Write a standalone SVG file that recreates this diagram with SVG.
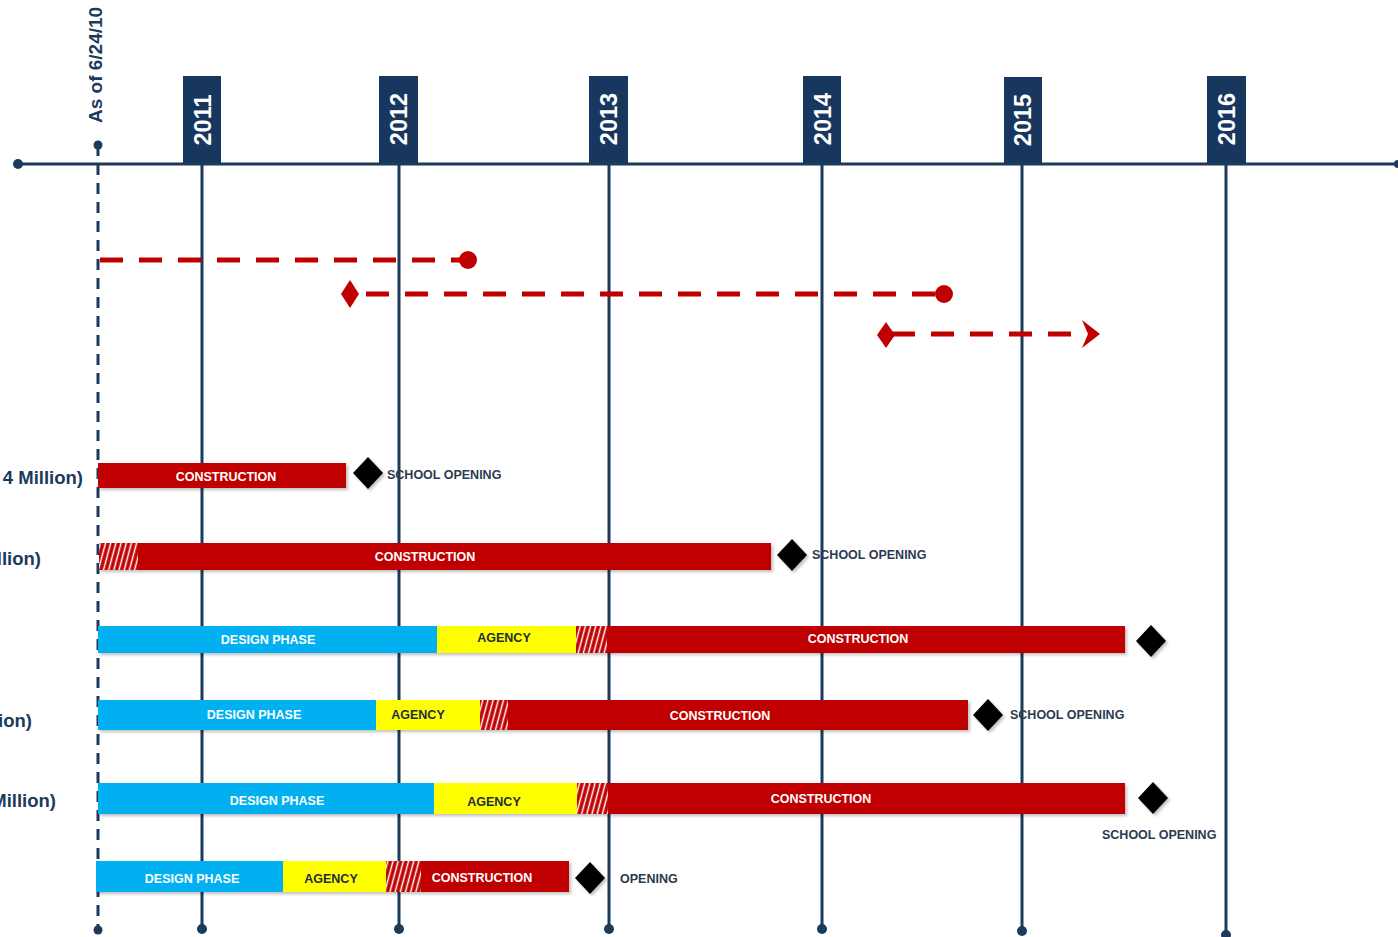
<svg xmlns="http://www.w3.org/2000/svg" width="1398" height="937" viewBox="0 0 1398 937">
<style>
.ax{stroke:#1b3a5c;stroke-width:3;fill:none}
.dot{fill:#1b3a5c}
.tag{fill:#17375e}
.yr{font-family:"Liberation Sans",Arial,sans-serif;font-weight:bold;font-size:23.5px;fill:#fff}
.red{fill:#c00000}
.cyan{fill:#00b0f0}
.yel{fill:#ffff00}
.hat{fill:url(#hatch)}
.bt{font-family:"Liberation Sans",Arial,sans-serif;font-weight:bold;font-size:12.5px;fill:#fff;text-anchor:middle}
.bty{font-family:"Liberation Sans",Arial,sans-serif;font-weight:bold;font-size:12.5px;fill:#1f2d3d;text-anchor:middle}
.ot{font-family:"Liberation Sans",Arial,sans-serif;font-weight:bold;font-size:12.5px;fill:#2b3a4f}
.lab{font-family:"Liberation Sans",Arial,sans-serif;font-weight:bold;font-size:18.5px;fill:#1b3a5c;text-anchor:end}
.rd{stroke:#c00000;stroke-width:5;fill:none;stroke-dasharray:23 16}
.dia{fill:#000}
</style>
<defs>
<pattern id="hatch" patternUnits="userSpaceOnUse" width="5" height="12" patternTransform="rotate(15)">
<rect width="5" height="12" fill="#c00000"/>
<line x1="2.5" y1="0" x2="2.5" y2="12" stroke="#fff" stroke-width="1.5"/>
</pattern>
<filter id="sh" x="-10%" y="-30%" width="120%" height="170%">
<feDropShadow dx="2" dy="2" stdDeviation="1.5" flood-color="#000" flood-opacity="0.25"/>
</filter>
</defs>
<rect width="1398" height="937" fill="#fff"/>

<g id="axis">
<line class="ax" x1="18" y1="164" x2="1398" y2="164"/>
<circle class="dot" cx="18" cy="164" r="5"/>
<circle class="dot" cx="1398" cy="164" r="4"/>
<line class="ax" x1="98" y1="145" x2="98" y2="930" stroke-dasharray="11 8"/>
<circle class="dot" cx="98" cy="145" r="4.5"/>
<circle class="dot" cx="98" cy="930" r="4.5"/>
<text transform="translate(102,123) rotate(-90)" font-family="Liberation Sans, Arial, sans-serif" font-weight="bold" font-size="19" fill="#1b3a5c">As of 6/24/10</text>
</g>

<g id="year-2011">
<line class="ax" x1="202" y1="164" x2="202" y2="929"/><circle class="dot" cx="202" cy="929" r="5"/>
<rect class="tag" x="183" y="76" width="38" height="88"/>
<text class="yr" transform="translate(210.5,120) rotate(-90)" text-anchor="middle">2011</text>
</g>
<g id="year-2012">
<line class="ax" x1="399" y1="164" x2="399" y2="929"/><circle class="dot" cx="399" cy="929" r="5"/>
<rect class="tag" x="379" y="76" width="39" height="87"/>
<text class="yr" transform="translate(407,119) rotate(-90)" text-anchor="middle">2012</text>
</g>
<g id="year-2013">
<line class="ax" x1="609" y1="164" x2="609" y2="929"/><circle class="dot" cx="609" cy="929" r="5"/>
<rect class="tag" x="589" y="76" width="39" height="87"/>
<text class="yr" transform="translate(617,119) rotate(-90)" text-anchor="middle">2013</text>
</g>
<g id="year-2014">
<line class="ax" x1="822" y1="164" x2="822" y2="929"/><circle class="dot" cx="822" cy="929" r="5"/>
<rect class="tag" x="803" y="76" width="38" height="87"/>
<text class="yr" transform="translate(830.5,119) rotate(-90)" text-anchor="middle">2014</text>
</g>
<g id="year-2015">
<line class="ax" x1="1022" y1="164" x2="1022" y2="931"/><circle class="dot" cx="1022" cy="931" r="5"/>
<rect class="tag" x="1004" y="77" width="38" height="86"/>
<text class="yr" transform="translate(1031,120) rotate(-90)" text-anchor="middle">2015</text>
</g>
<g id="year-2016">
<line class="ax" x1="1226" y1="164" x2="1226" y2="935"/><circle class="dot" cx="1226" cy="935" r="5"/>
<rect class="tag" x="1207" y="76" width="39" height="87"/>
<text class="yr" transform="translate(1235,119) rotate(-90)" text-anchor="middle">2016</text>
</g>

<g id="connectors">
<line class="rd" x1="100" y1="260" x2="460" y2="260"/>
<circle class="red" cx="468" cy="260" r="9"/>
<line class="rd" x1="358" y1="294" x2="936" y2="294" stroke-dashoffset="-8"/>
<polygon class="red" points="341,294 350,280 359,294 350,308"/>
<circle class="red" cx="944" cy="294" r="9"/>
<line class="rd" x1="892" y1="334" x2="1084" y2="334"/>
<polygon class="red" points="877,335 886,322 895,335 886,348"/>
<polygon class="red" points="1082,320 1100,334 1082,348 1088,334"/>
</g>

<g id="row1">
<text class="lab" x="83" y="484">4 Million)</text>
<rect class="red" x="98" y="463" width="248" height="25" filter="url(#sh)"/>
<text class="bt" x="226" y="481">CONSTRUCTION</text>
<polygon class="dia" points="353,473 368,457 383,473 368,489" filter="url(#sh)"/>
<text class="ot" x="387" y="479">SCHOOL OPENING</text>
</g>

<g id="row2">
<text class="lab" x="41" y="565">llion)</text>
<rect class="red" x="99" y="543" width="672" height="27" filter="url(#sh)"/>
<rect class="hat" x="99" y="543" width="39" height="27"/>
<text class="bt" x="425" y="561">CONSTRUCTION</text>
<polygon class="dia" points="777,555 792,539 807,555 792,571" filter="url(#sh)"/>
<text class="ot" x="812" y="559">SCHOOL OPENING</text>
</g>

<g id="row3">
<rect class="cyan" x="98" y="626" width="339" height="27" filter="url(#sh)"/>
<rect class="yel" x="437" y="626" width="139" height="27" filter="url(#sh)"/>
<rect class="red" x="576" y="626" width="549" height="27" filter="url(#sh)"/>
<rect class="hat" x="576" y="626" width="31" height="27"/>
<text class="bt" x="268" y="644">DESIGN PHASE</text>
<text class="bty" x="504" y="642">AGENCY</text>
<text class="bt" x="858" y="643">CONSTRUCTION</text>
<polygon class="dia" points="1136,641 1151,625 1166,641 1151,657" filter="url(#sh)"/>
</g>

<g id="row4">
<text class="lab" x="32" y="727">ion)</text>
<rect class="cyan" x="98" y="700" width="278" height="30" filter="url(#sh)"/>
<rect class="yel" x="376" y="700" width="104" height="30" filter="url(#sh)"/>
<rect class="red" x="480" y="700" width="488" height="30" filter="url(#sh)"/>
<rect class="hat" x="480" y="700" width="28" height="30"/>
<text class="bt" x="254" y="719">DESIGN PHASE</text>
<text class="bty" x="418" y="719">AGENCY</text>
<text class="bt" x="720" y="720">CONSTRUCTION</text>
<polygon class="dia" points="973,715 988,699 1003,715 988,731" filter="url(#sh)"/>
<text class="ot" x="1010" y="719">SCHOOL OPENING</text>
</g>

<g id="row5">
<text class="lab" x="56" y="807">Million)</text>
<rect class="cyan" x="98" y="783" width="336" height="31" filter="url(#sh)"/>
<rect class="yel" x="434" y="783" width="143" height="31" filter="url(#sh)"/>
<rect class="red" x="577" y="783" width="548" height="31" filter="url(#sh)"/>
<rect class="hat" x="577" y="783" width="31" height="31"/>
<text class="bt" x="277" y="805">DESIGN PHASE</text>
<text class="bty" x="494" y="806">AGENCY</text>
<text class="bt" x="821" y="803">CONSTRUCTION</text>
<polygon class="dia" points="1138,798 1153,782 1168,798 1153,814" filter="url(#sh)"/>
<text class="ot" x="1102" y="839">SCHOOL OPENING</text>
</g>

<g id="row6">
<rect class="cyan" x="96" y="861" width="187" height="31" filter="url(#sh)"/>
<rect class="yel" x="283" y="861" width="103" height="31" filter="url(#sh)"/>
<rect class="red" x="386" y="861" width="183" height="31" filter="url(#sh)"/>
<rect class="hat" x="386" y="861" width="35" height="31"/>
<text class="bt" x="192" y="883">DESIGN PHASE</text>
<text class="bty" x="331" y="883">AGENCY</text>
<text class="bt" x="482" y="882">CONSTRUCTION</text>
<polygon class="dia" points="575,878 590,862 605,878 590,894" filter="url(#sh)"/>
<text class="ot" x="620" y="883">OPENING</text>
</g>
</svg>
